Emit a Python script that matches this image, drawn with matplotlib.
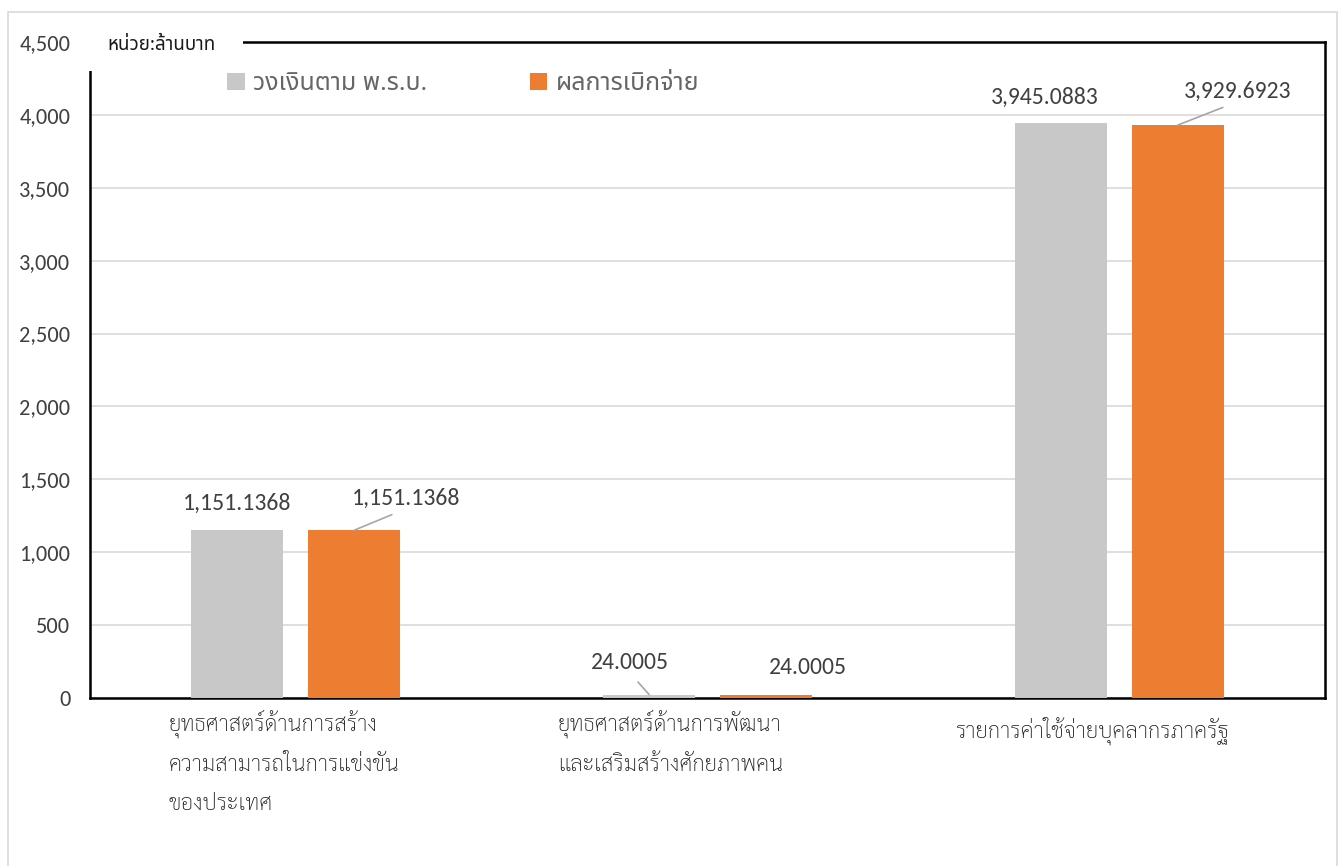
import numpy as np
import matplotlib
matplotlib.use("Agg")
import matplotlib.pyplot as plt
import matplotlib.transforms as mtransforms
from matplotlib import font_manager
from matplotlib.patches import Rectangle

# ข้อมูล (ล้านบาท)
categories = ["ยุทธศาสตร์ด้านการสร้าง\nความสามารถในการแข่งขัน\nของประเทศ",
              "ยุทธศาสตร์ด้านการพัฒนา\nและเสริมสร้างศักยภาพคน",
              "รายการค่าใช้จ่ายบุคลากรภาครัฐ"]
budget = [1151.1368, 24.0005, 3945.0883]
spent = [1151.1368, 24.0005, 3929.6923]
series_names = ["วงเงินตาม พ.ร.บ.", "ผลการเบิกจ่าย"]
unit_label = "หน่วย:ล้านบาท"

# ตำแหน่งป้ายตัวเลข (offset เป็นพิกเซล) และเส้นโยง
gray_offsets = [(0, 27), (-19, 32), (-16, 26)]
orange_offsets = [(52, 32), (42, 27), (60, 34)]
gray_leader = [False, True, False]
orange_leader = [True, False, True]
# เลื่อนป้ายแกน x (พิกเซล)
xlabel_shift = [(-12, 0), (-37, 0), (-27, -8)]

avail = {f.name for f in font_manager.fontManager.ttflist}

def pick(*names):
    for n in names:
        if n in avail:
            return n
    return "DejaVu Sans"

num_font = pick("Carlito", "Open Sans", "Lato")
thai_font = pick("Noto Sans Thai", "Anuphan", "IBM Plex Sans Thai")
thai_loop = pick("Sarabun", "Noto Sans Thai Looped", "Noto Serif Thai")

W, H = 1339, 866
fig = plt.figure(figsize=(W / 100, H / 100), dpi=100)

# กรอบนอกสีเทา
fig.patches.append(Rectangle((8 / W, -0.01), (1337 - 8) / W, 1 - 12 / H + 0.01,
                             transform=fig.transFigure, fill=False,
                             edgecolor="#d9d9d9", lw=1.2, zorder=0))

ax = fig.add_axes([90 / W, 1 - 698 / H, 1235 / W, 656 / H])

x = np.arange(len(categories))
bw = 0.2235
off = 0.142
b1 = ax.bar(x - off, budget, bw, color="#c8c8c8", label=series_names[0], zorder=3)
b2 = ax.bar(x + off, spent, bw, color="#ed7d31", label=series_names[1], zorder=3)

ax.set_xlim(-0.5, 2.5)
ax.set_ylim(0, 4500)
ax.set_yticks(np.arange(0, 4501, 500))
ax.set_yticklabels([f"{v:,}" for v in range(0, 4501, 500)],
                   fontfamily=num_font, fontsize=16, color="#404040")
ax.yaxis.grid(True, color="#d9d9d9", lw=1.2, zorder=0)
ax.tick_params(axis="y", length=0, pad=14)
ax.tick_params(axis="x", length=0, pad=8)

for s in ax.spines.values():
    s.set_color("black")
    s.set_linewidth(1.8)

ax.set_xticks(x)
ax.set_xticklabels(categories, fontfamily=[thai_loop, "DejaVu Sans"], fontsize=16,
                   fontweight="light", color="#1a1a1a", linespacing=2.1, va="top")
for lab, (dx, dy) in zip(ax.get_xticklabels(), xlabel_shift):
    lab.set_multialignment("left")
    lab.set_transform(lab.get_transform()
                      + mtransforms.ScaledTranslation(dx / 100, dy / 100, fig.dpi_scale_trans))

def put_labels(bars, offsets, leaders):
    for bar, (dx, dy), ld in zip(bars, offsets, leaders):
        h = bar.get_height()
        xc = bar.get_x() + bar.get_width() / 2
        kw = {}
        if ld:
            kw["arrowprops"] = dict(arrowstyle="-", color="#a6a6a6", lw=1.2,
                                    relpos=(0.5, 0), shrinkA=6, shrinkB=0)
        ax.annotate(f"{h:,.4f}", xy=(xc, h), xytext=(dx * 0.72, dy * 0.72),
                    textcoords="offset points", ha="center", va="center",
                    fontfamily=num_font, fontsize=17, color="#404040", **kw)

put_labels(b1, gray_offsets, gray_leader)
put_labels(b2, orange_offsets, orange_leader)

leg = ax.legend(ncol=2, loc="upper left", bbox_to_anchor=(227 / W, 1 - 71 / H),
                bbox_transform=fig.transFigure, frameon=False, borderpad=0,
                borderaxespad=0, handlelength=0.7, handleheight=0.7,
                handletextpad=0.35, columnspacing=4.1,
                prop={"family": [thai_font, "DejaVu Sans"], "size": 18})
for t in leg.get_texts():
    t.set_color("#666666")

# กล่องหน่วย (บังมุมกรอบ)
fig.patches.append(Rectangle((86 / W, 1 - 71 / H), (243 - 86) / W, 50 / H,
                             transform=fig.transFigure, facecolor="white",
                             edgecolor="none", zorder=5))
fig.text(107 / W, 1 - 45 / H, unit_label, fontfamily=[thai_font, "DejaVu Sans"],
         fontsize=13.5, color="#1a1a1a", va="center", ha="left", zorder=6)

fig.savefig("out.png", dpi=100)
